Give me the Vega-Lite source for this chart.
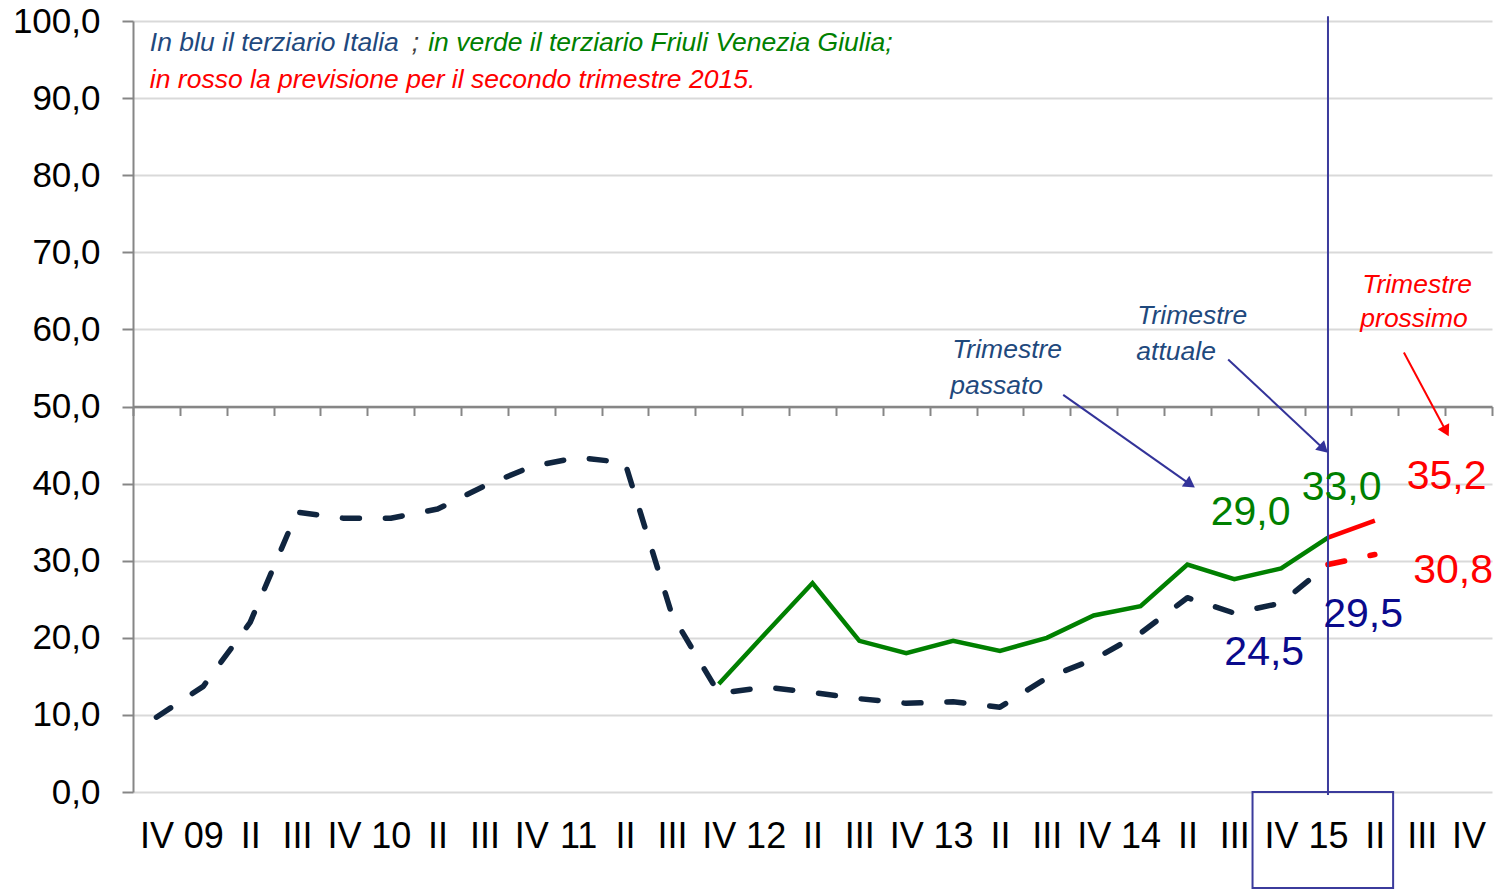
{
  "$schema": "https://vega.github.io/schema/vega-lite/v6.json",
  "width": 1359,
  "height": 771,
  "autosize": {"type": "none"},
  "padding": {"left": 133, "top": 21, "right": 7, "bottom": 98},
  "background": "white",
  "config": {"view": {"stroke": null}, "font": "Liberation Sans"},
  "datasets": {
    "italia": [
      {"i": 0, "v": 9.7}, {"i": 1, "v": 13.7}, {"i": 2, "v": 22.0}, {"i": 3, "v": 36.3},
      {"i": 4, "v": 35.5}, {"i": 5, "v": 35.5}, {"i": 6, "v": 36.7}, {"i": 7, "v": 39.7},
      {"i": 8, "v": 42.2}, {"i": 9, "v": 43.4}, {"i": 10, "v": 42.7}, {"i": 11, "v": 23.0},
      {"i": 12, "v": 12.8}, {"i": 13, "v": 13.6}, {"i": 14, "v": 12.9}, {"i": 15, "v": 12.1},
      {"i": 16, "v": 11.5}, {"i": 17, "v": 11.7}, {"i": 18, "v": 11.0}, {"i": 19, "v": 14.8},
      {"i": 20, "v": 17.2}, {"i": 21, "v": 20.6}, {"i": 22, "v": 25.2}, {"i": 23, "v": 23.2},
      {"i": 24, "v": 24.5}, {"i": 25, "v": 29.5}
    ],
    "fvg": [
      {"i": 12, "v": 14.0}, {"i": 13, "v": 20.6}, {"i": 14, "v": 27.1}, {"i": 15, "v": 19.6},
      {"i": 16, "v": 18.0}, {"i": 17, "v": 19.6}, {"i": 18, "v": 18.3}, {"i": 19, "v": 20.0},
      {"i": 20, "v": 22.9}, {"i": 21, "v": 24.1}, {"i": 22, "v": 29.5}, {"i": 23, "v": 27.6},
      {"i": 24, "v": 29.0}, {"i": 25, "v": 33.0}
    ],
    "prev_it": [{"i": 25, "v": 29.5}, {"i": 26, "v": 30.8}],
    "prev_fvg": [{"i": 25, "v": 33.0}, {"i": 26, "v": 35.2}],
    "notes": [
      {"x": -0.14, "y": 97.1, "t": "In blu il terziario Italia", "g": "n_it"},
      {"x": 5.45, "y": 97.1, "t": ";", "g": "n_sep"},
      {"x": 5.8, "y": 97.1, "t": "in verde il terziario Friuli Venezia Giulia;", "g": "n_fvg"},
      {"x": -0.14, "y": 92.4, "t": "in rosso la previsione per il secondo trimestre 2015.", "g": "n_prev"},
      {"x": 16.98, "y": 57.3, "t": "Trimestre", "g": "n_it"},
      {"x": 16.94, "y": 52.7, "t": "passato", "g": "n_it"},
      {"x": 20.93, "y": 61.7, "t": "Trimestre", "g": "n_it"},
      {"x": 20.91, "y": 57.1, "t": "attuale", "g": "n_it"},
      {"x": 25.73, "y": 65.8, "t": "Trimestre", "g": "n_prev"},
      {"x": 25.69, "y": 61.3, "t": "prossimo", "g": "n_prev"}
    ],
    "vlabels": [
      {"x": 23.35, "y": 36.2, "t": "29,0", "g": "v_fvg"},
      {"x": 25.29, "y": 39.4, "t": "33,0", "g": "v_fvg"},
      {"x": 27.53, "y": 40.9, "t": "35,2", "g": "v_prev"},
      {"x": 27.67, "y": 28.7, "t": "30,8", "g": "v_prev"},
      {"x": 25.75, "y": 23.0, "t": "29,5", "g": "v_it"},
      {"x": 23.64, "y": 18.0, "t": "24,5", "g": "v_it"}
    ],
    "arrows": [
      {"x": 19.35, "y": 51.5, "x2": 22.06, "y2": 39.9, "g": "a_it", "k": 1},
      {"x": 22.87, "y": 56.1, "x2": 24.91, "y2": 44.5, "g": "a_it", "k": 2},
      {"x": 26.62, "y": 57.0, "x2": 27.52, "y2": 46.8, "g": "a_prev", "k": 3}
    ],
    "marker": [{"x": 25, "y": 100.6, "y2": -0.4}],
    "box": [{"x": 23.39, "x2": 26.39, "y": 0, "y2": -12.45}]
  },
  "resolve": {"axis": {"x": "independent", "y": "independent"}},
  "layer": [
    {
      "data": {"name": "italia"},
      "mark": {"type": "line", "color": "#10253f", "strokeWidth": 5.5, "strokeDash": [17, 26], "strokeCap": "round", "strokeJoin": "round"},
      "encoding": {
        "x": {"field": "i", "type": "quantitative", "scale": {"domain": [-0.5, 28.5], "nice": false, "zero": false},
          "axis": {"orient": "bottom", "values": [0,1,2,3,4,5,6,7,8,9,10,11,12,13,14,15,16,17,18,19,20,21,22,23,24,25,26,27,28],
            "labelExpr": "['IV','09','II','III','IV','10','II','III','IV','11','II','III','IV','12','II','III','IV','13','II','III','IV','14','II','III','IV','15','II','III','IV'][datum.value]",
            "domain": false, "ticks": false, "grid": false, "title": null, "labelFont": "Liberation Sans", "labelFontSize": 36, "labelColor": "#000000", "labelPadding": 27, "labelOverlap": false, "labelFlush": false, "labelBound": false}},
        "y": {"field": "v", "type": "quantitative", "scale": {"domain": [0, 100], "nice": false},
          "axis": {"orient": "left", "values": [0,10,20,30,40,50,60,70,80,90,100], "labelExpr": "replace(format(datum.value,'.1f'),'.',',')", "title": null,
            "labelFont": "Liberation Sans", "labelFontSize": 35, "labelColor": "#000000", "labelPadding": 22,
            "tickSize": 11, "tickColor": "#868686", "tickWidth": 2, "domainColor": "#868686", "domainWidth": 2,
            "grid": true, "gridColor": "#d9d9d9", "gridWidth": 2, "labelOverlap": false}}
      }
    },
    {
      "data": {"name": "fvg"},
      "mark": {"type": "line", "color": "#008000", "strokeWidth": 4.5, "strokeJoin": "miter"},
      "encoding": {
        "x": {"field": "i", "type": "quantitative", "scale": {"domain": [-0.5, 28.5], "nice": false, "zero": false},
          "axis": {"orient": "bottom", "offset": -385.5, "values": [-0.5,0.5,1.5,2.5,3.5,4.5,5.5,6.5,7.5,8.5,9.5,10.5,11.5,12.5,13.5,14.5,15.5,16.5,17.5,18.5,19.5,20.5,21.5,22.5,23.5,24.5,25.5,26.5,27.5,28.5],
            "labels": false, "grid": false, "title": null, "domain": true, "domainColor": "#868686", "domainWidth": 2.5,
            "ticks": true, "tickSize": 9, "tickColor": "#868686", "tickWidth": 2}},
        "y": {"field": "v", "type": "quantitative", "scale": {"domain": [0, 100], "nice": false}, "axis": null}
      }
    },
    {
      "data": {"name": "prev_fvg"},
      "mark": {"type": "line", "color": "#ff0000", "strokeWidth": 4.5},
      "encoding": {
        "x": {"field": "i", "type": "quantitative", "scale": {"domain": [-0.5, 28.5], "nice": false, "zero": false}, "axis": null},
        "y": {"field": "v", "type": "quantitative", "scale": {"domain": [0, 100], "nice": false}, "axis": null}
      }
    },
    {
      "data": {"name": "prev_it"},
      "mark": {"type": "line", "color": "#ff0000", "strokeWidth": 5.5, "strokeDash": [17, 26], "strokeCap": "round"},
      "encoding": {
        "x": {"field": "i", "type": "quantitative", "scale": {"domain": [-0.5, 28.5], "nice": false, "zero": false}, "axis": null},
        "y": {"field": "v", "type": "quantitative", "scale": {"domain": [0, 100], "nice": false}, "axis": null}
      }
    },
    {
      "data": {"name": "marker"},
      "mark": {"type": "rule", "color": "#3b3b9c", "strokeWidth": 2},
      "encoding": {
        "x": {"field": "x", "type": "quantitative", "scale": {"domain": [-0.5, 28.5], "nice": false, "zero": false}, "axis": null},
        "y": {"field": "y", "type": "quantitative", "scale": {"domain": [0, 100], "nice": false}, "axis": null},
        "y2": {"field": "y2"}
      }
    },
    {
      "data": {"name": "box"},
      "mark": {"type": "rect", "fill": "transparent", "stroke": "#3b3b9c", "strokeWidth": 2},
      "encoding": {
        "x": {"field": "x", "type": "quantitative", "scale": {"domain": [-0.5, 28.5], "nice": false, "zero": false}, "axis": null},
        "x2": {"field": "x2"},
        "y": {"field": "y", "type": "quantitative", "scale": {"domain": [0, 100], "nice": false}, "axis": null},
        "y2": {"field": "y2"}
      }
    },
    {
      "data": {"name": "arrows"},
      "mark": {"type": "rule", "strokeWidth": 2},
      "encoding": {
        "x": {"field": "x", "type": "quantitative", "scale": {"domain": [-0.5, 28.5], "nice": false, "zero": false}, "axis": null},
        "x2": {"field": "x2"},
        "y": {"field": "y", "type": "quantitative", "scale": {"domain": [0, 100], "nice": false}, "axis": null},
        "y2": {"field": "y2"},
        "color": {"field": "g", "type": "nominal", "legend": null,
          "scale": {"domain": ["n_it","n_sep","n_fvg","n_prev","v_it","v_fvg","v_prev","a_it","a_prev"], "range": ["#1f497d","#404040","#008000","#ff0000","#0a0a8c","#008000","#ff0000","#333399","#ff0000"]}}
      }
    },
    {
      "data": {"name": "arrows"},
      "transform": [{"filter": "datum.k == 1"}],
      "mark": {"type": "point", "shape": "triangle-right", "filled": true, "opacity": 1, "size": 170, "angle": 35},
      "encoding": {
        "x": {"field": "x2", "type": "quantitative", "scale": {"domain": [-0.5, 28.5], "nice": false, "zero": false}, "axis": null},
        "y": {"field": "y2", "type": "quantitative", "scale": {"domain": [0, 100], "nice": false}, "axis": null},
        "color": {"field": "g", "type": "nominal", "legend": null,
          "scale": {"domain": ["n_it","n_sep","n_fvg","n_prev","v_it","v_fvg","v_prev","a_it","a_prev"], "range": ["#1f497d","#404040","#008000","#ff0000","#0a0a8c","#008000","#ff0000","#333399","#ff0000"]}}
      }
    },
    {
      "data": {"name": "arrows"},
      "transform": [{"filter": "datum.k == 2"}],
      "mark": {"type": "point", "shape": "triangle-right", "filled": true, "opacity": 1, "size": 170, "angle": 43},
      "encoding": {
        "x": {"field": "x2", "type": "quantitative", "scale": {"domain": [-0.5, 28.5], "nice": false, "zero": false}, "axis": null},
        "y": {"field": "y2", "type": "quantitative", "scale": {"domain": [0, 100], "nice": false}, "axis": null},
        "color": {"field": "g", "type": "nominal", "legend": null,
          "scale": {"domain": ["n_it","n_sep","n_fvg","n_prev","v_it","v_fvg","v_prev","a_it","a_prev"], "range": ["#1f497d","#404040","#008000","#ff0000","#0a0a8c","#008000","#ff0000","#333399","#ff0000"]}}
      }
    },
    {
      "data": {"name": "arrows"},
      "transform": [{"filter": "datum.k == 3"}],
      "mark": {"type": "point", "shape": "triangle-right", "filled": true, "opacity": 1, "size": 170, "angle": 62},
      "encoding": {
        "x": {"field": "x2", "type": "quantitative", "scale": {"domain": [-0.5, 28.5], "nice": false, "zero": false}, "axis": null},
        "y": {"field": "y2", "type": "quantitative", "scale": {"domain": [0, 100], "nice": false}, "axis": null},
        "color": {"field": "g", "type": "nominal", "legend": null,
          "scale": {"domain": ["n_it","n_sep","n_fvg","n_prev","v_it","v_fvg","v_prev","a_it","a_prev"], "range": ["#1f497d","#404040","#008000","#ff0000","#0a0a8c","#008000","#ff0000","#333399","#ff0000"]}}
      }
    },
    {
      "data": {"name": "notes"},
      "mark": {"type": "text", "align": "left", "baseline": "middle", "font": "Liberation Sans", "fontStyle": "italic", "fontSize": 26.5},
      "encoding": {
        "x": {"field": "x", "type": "quantitative", "scale": {"domain": [-0.5, 28.5], "nice": false, "zero": false}, "axis": null},
        "y": {"field": "y", "type": "quantitative", "scale": {"domain": [0, 100], "nice": false}, "axis": null},
        "text": {"field": "t"},
        "color": {"field": "g", "type": "nominal", "legend": null,
          "scale": {"domain": ["n_it","n_sep","n_fvg","n_prev","v_it","v_fvg","v_prev","a_it","a_prev"], "range": ["#1f497d","#404040","#008000","#ff0000","#0a0a8c","#008000","#ff0000","#333399","#ff0000"]}}
      }
    },
    {
      "data": {"name": "vlabels"},
      "mark": {"type": "text", "align": "center", "baseline": "middle", "font": "Liberation Sans", "fontSize": 41},
      "encoding": {
        "x": {"field": "x", "type": "quantitative", "scale": {"domain": [-0.5, 28.5], "nice": false, "zero": false}, "axis": null},
        "y": {"field": "y", "type": "quantitative", "scale": {"domain": [0, 100], "nice": false}, "axis": null},
        "text": {"field": "t"},
        "color": {"field": "g", "type": "nominal", "legend": null,
          "scale": {"domain": ["n_it","n_sep","n_fvg","n_prev","v_it","v_fvg","v_prev","a_it","a_prev"], "range": ["#1f497d","#404040","#008000","#ff0000","#0a0a8c","#008000","#ff0000","#333399","#ff0000"]}}
      }
    }
  ]
}
